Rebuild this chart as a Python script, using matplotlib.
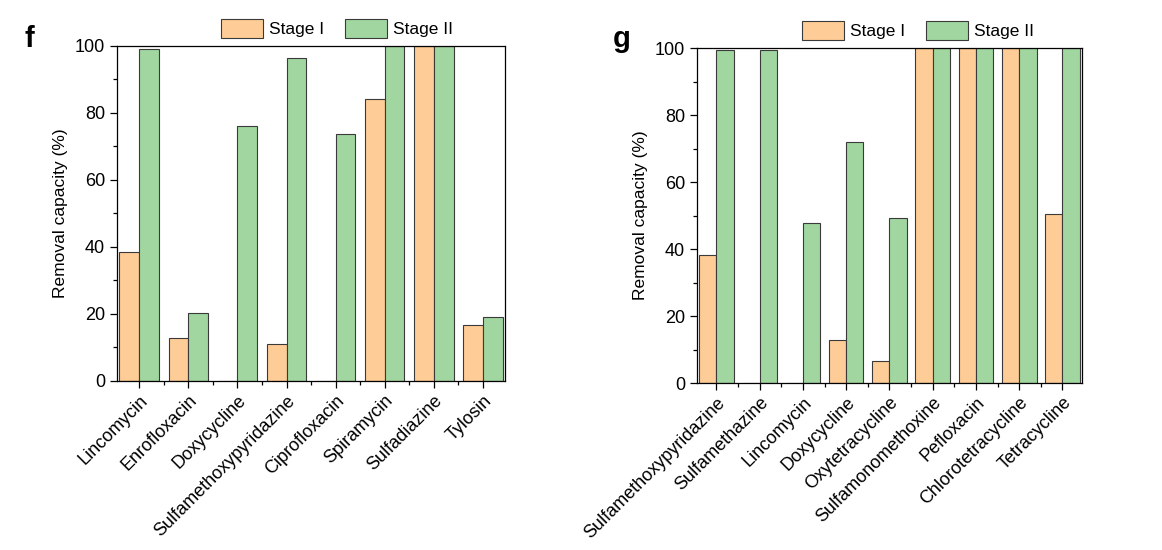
import numpy as np
import matplotlib.pyplot as plt
from matplotlib.ticker import MultipleLocator, FixedLocator

plt.rcParams['font.family'] = ['Liberation Sans', 'DejaVu Sans']

# panel f
drugs_f = ['Lincomycin', 'Enrofloxacin', 'Doxycycline', 'Sulfamethoxypyridazine',
           'Ciprofloxacin', 'Spiramycin', 'Sulfadiazine', 'Tylosin']
stage1_f = [38.5, 12.8, 0, 11.0, 0, 84.2, 100, 16.6]
stage2_f = [99.0, 20.3, 76.1, 96.3, 73.6, 100, 100, 19.2]

# panel g
drugs_g = ['Sulfamethoxypyridazine', 'Sulfamethazine', 'Lincomycin', 'Doxycycline',
           'Oxytetracycline', 'Sulfamonomethoxine', 'Pefloxacin',
           'Chlorotetracycline', 'Tetracycline']
stage1_g = [38.3, 0, 0, 12.7, 6.7, 100, 100, 100, 50.5]
stage2_g = [99.5, 99.5, 47.8, 71.8, 49.3, 100, 100, 100, 100]

c1 = '#FECC96'
c2 = '#A1D6A0'
ec = '#3a3a3a'

fig = plt.figure(figsize=(11.62, 5.5), dpi=100)
ax1 = fig.add_axes([0.1007, 0.3073, 0.334, 0.6091])
ax2 = fig.add_axes([0.5998, 0.3036, 0.3313, 0.6091])


def panel(ax, names, s1, s2, letter, lx, legx):
    x = np.arange(len(names))
    w = 0.4
    b1 = ax.bar(x - w / 2, s1, w, color=c1, edgecolor=ec, linewidth=0.8, label='Stage I')
    b2 = ax.bar(x + w / 2, s2, w, color=c2, edgecolor=ec, linewidth=0.8, label='Stage II')
    ax.set_xlim(-0.45, len(names) - 0.55)
    ax.set_ylim(0, 100)
    ax.set_xticks(x)
    ax.set_xticklabels(names, rotation=45, ha='right', rotation_mode='anchor', fontsize=13)
    ax.xaxis.set_minor_locator(FixedLocator(x[:-1] + 0.5))
    ax.yaxis.set_major_locator(MultipleLocator(20))
    ax.yaxis.set_minor_locator(MultipleLocator(10))
    ax.tick_params(which='major', direction='out', length=5, width=0.9, labelsize=13)
    ax.tick_params(which='minor', direction='out', length=3, width=0.9)
    ax.tick_params(axis='x', pad=3)
    for s in ax.spines.values():
        s.set_linewidth(0.9)
    ax.set_ylabel('Removal capacity (%)', fontsize=12.5, labelpad=5)
    ax.legend(handles=[b1, b2], loc='lower center', bbox_to_anchor=(legx, 1.0),
              ncol=2, frameon=False, fontsize=12.5, handlelength=2.4, handleheight=1.35,
              columnspacing=1.2, handletextpad=0.35, borderaxespad=0.05)
    fig.text(lx, 1 - 47 / 550, letter, fontsize=21, fontweight='bold',
             ha='left', va='baseline')


panel(ax1, drugs_f, stage1_f, stage2_f, 'f', 0.021, 0.567)
panel(ax2, drugs_g, stage1_g, stage2_g, 'g', 0.527, 0.574)

fig.savefig('out.png', dpi=100)
